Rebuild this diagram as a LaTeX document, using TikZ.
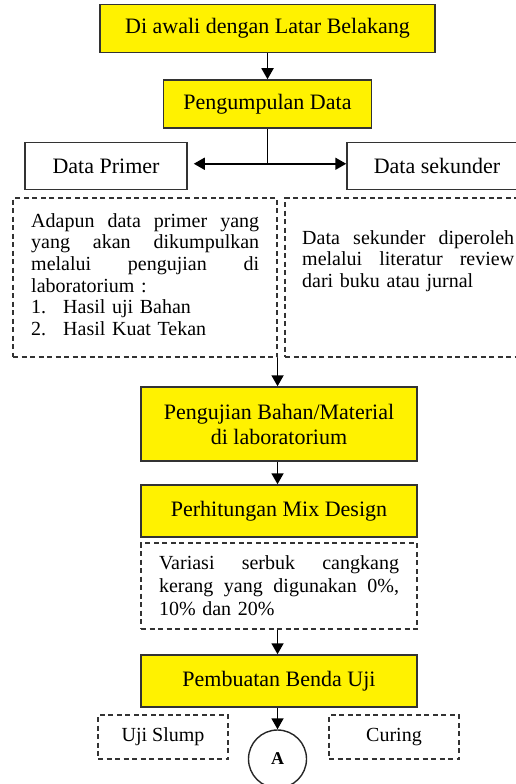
\documentclass[tikz,border=0pt]{standalone}
\usepackage{fontspec}
\setmainfont{Liberation Serif}
\usetikzlibrary{arrows.meta}
\newcommand\jline[2]{\leavevmode\hbox to #1{#2}}
\begin{document}
\begin{tikzpicture}[x=1pt,y=-1pt,
  ybox/.style={draw=black!80, line width=1.5pt, fill=yellow, inner sep=0pt,
    font=\fontsize{22}{25}\selectfont, align=center},
  wbox/.style={draw=black!80, line width=1.5pt, fill=white, inner sep=0pt,
    font=\fontsize{22}{25}\selectfont, align=center},
  dbox/.style={draw=black!80, line width=1.1pt, dash pattern=on 5pt off 3.5pt, inner sep=0pt,
    font=\fontsize{20}{21.6}\selectfont},
  txt/.style={inner sep=0pt, align=left, font=\fontsize{20}{21.6}\selectfont},
  arr/.style={line width=1.8pt, -{Triangle[length=11pt,width=12pt]}},
  plain/.style={line width=1.8pt}
]
\path[use as bounding box] (0,0) rectangle (516,784);

\node[ybox, minimum width=335pt, minimum height=48pt] (start) at (267.5,28.5) {Di awali dengan Latar Belakang};
\node[ybox, minimum width=208pt, minimum height=48pt] (kumpul) at (267.5,104) {Pengumpulan Data};
\node[wbox, minimum width=162pt, minimum height=47pt] (primer) at (106,166) {Data Primer};
\node[wbox, minimum width=180pt, minimum height=47pt] (sekunder) at (437,166) {Data sekunder};

\node[dbox, minimum width=264pt, minimum height=159pt] (dl) at (145,277.5) {};
\node[dbox, minimum width=250pt, minimum height=159pt] (dr) at (410,277.5) {};
\node[txt, text width=228pt, anchor=north west] (dltext) at (31,213.3) {%
\jline{228pt}{Adapun\hfill data\hfill primer\hfill yang}\\
\jline{228pt}{yang\hfill akan\hfill dikumpulkan}\\
\jline{228pt}{melalui\hfill pengujian\hfill di}\\
laboratorium :\\
\makebox[32pt][l]{1.}Hasil uji Bahan\\
\makebox[32pt][l]{2.}Hasil Kuat Tekan};
\node[txt, text width=212pt, anchor=north west] (drtext) at (302,230.3) {%
\jline{212pt}{Data\hfill sekunder\hfill diperoleh}\\
\jline{212pt}{melalui\hfill literatur\hfill review}\\
dari buku atau jurnal};

\node[ybox, minimum width=276pt, minimum height=74pt] (peng) at (279,424) {Pengujian Bahan/Material\\di laboratorium};
\node[ybox, minimum width=276pt, minimum height=52pt] (mix) at (279,511) {Perhitungan Mix Design};
\node[dbox, minimum width=276pt, minimum height=86pt, text width=240pt, align=left,
  font=\fontsize{20}{23}\selectfont] (var) at (279,586) {%
\jline{240pt}{Variasi\hfill serbuk\hfill cangkang}\\
\jline{240pt}{kerang\hfill yang\hfill digunakan\hfill 0\%,}\\
10\% dan 20\%};
\node[ybox, minimum width=276pt, minimum height=52pt] (pemb) at (279,681) {Pembuatan Benda Uji};

\node[dbox, minimum width=130pt, minimum height=44pt] (slump) at (163,737) {Uji Slump};
\node[dbox, minimum width=130pt, minimum height=44pt] (curing) at (394,737) {Curing};
\node[circle, draw=black!85, line width=1.4pt, minimum size=58pt, inner sep=0pt,
  font=\fontsize{18}{18}\selectfont\bfseries] (A) at (277.5,759) {A};

\draw[arr] (start) -- (kumpul);
\path (kumpul.south) ++(0,35) coordinate (fork);
\draw[plain] (kumpul.south) -- (fork);
\draw[arr, shorten >=6pt] (fork) -- (fork -| primer.east);
\draw[arr] (fork) -- (fork -| sekunder.west);
\draw[arr] (dl.south east) -- (dl.south east |- peng.north);
\draw[arr] (peng.south -| A) -- (mix.north -| A);
\draw[arr] (var.south -| A) -- (pemb.north -| A);
\draw[arr] (pemb.south -| A) -- (A);
\end{tikzpicture}
\end{document}
